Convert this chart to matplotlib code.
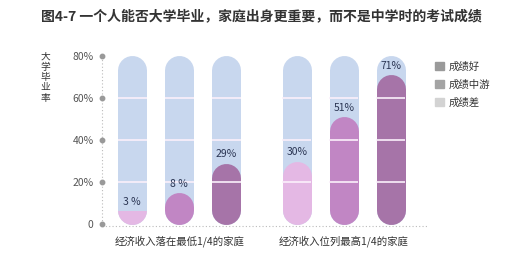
import matplotlib
matplotlib.use("Agg")
import matplotlib.pyplot as plt
from matplotlib.patches import Rectangle, Patch

plt.rcParams['font.family'] = ['Noto Sans CJK SC', 'DejaVu Sans']

# data
title = "图4-7 一个人能否大学毕业，家庭出身更重要，而不是中学时的考试成绩"
groups = ["经济收入落在最低1/4的家庭", "经济收入位列最高1/4的家庭"]
levels = ["成绩差", "成绩中游", "成绩好"]
low_income = [3, 8, 29]
high_income = [30, 51, 71]
yticks = [0, 20, 40, 60, 80]
ytick_labels = ["0", "20%", "40%", "60%", "80%"]

fill_colors = {"成绩差": "#e4b8e4", "成绩中游": "#c186c4", "成绩好": "#a674a8"}
legend_colors = {"成绩好": "#9a9a9a", "成绩中游": "#a4a4a4", "成绩差": "#d3d3d3"}
back_color = "#c8d7ee"

W, H = 525, 259
fig = plt.figure(figsize=(W / 100, H / 100), dpi=100)
ax = fig.add_axes([102 / W, (H - 224) / H, 326 / W, 168 / H])
ax.set_xlim(-0.64, 6.29)
ax.set_ylim(0, 80)
for s in ax.spines.values():
    s.set_visible(False)
ax.set_xticks([])
ax.set_yticks(yticks)
ax.set_yticklabels(ytick_labels, fontsize=7.5, color="#555555")
ax.tick_params(axis="y", length=0, pad=6)

# bar geometry in pixels -> data units
bar_px = 29
px_per_unit = ax.transData.transform((0, 1))[1] - ax.transData.transform((0, 0))[1]
r = bar_px / 2 / px_per_unit
lw = bar_px * 72 / 100
half_w = bar_px / 2 / (ax.transData.transform((1, 0))[0] - ax.transData.transform((0, 0))[0])

positions = [[0, 1, 2], [3.5, 4.5, 5.5]]
for gi, vals in enumerate([low_income, high_income]):
    for x, v, lev in zip(positions[gi], vals, levels):
        # background capsule up to 80%
        ax.plot([x, x], [r, 80 - r], color=back_color, lw=lw,
                solid_capstyle="round", zorder=1, clip_on=False)
        # filled capsule (at least one bar-width tall)
        top = max(v, 2 * r + 1)
        ln, = ax.plot([x, x], [r, top - r], color=fill_colors[lev], lw=lw,
                      solid_capstyle="round", zorder=2)
        clip_top = min(top, 2 * v)
        clip = Rectangle((x - 0.5, -5), 1, clip_top + 5, transform=ax.transData)
        ln.set_clip_path(clip)
        ln.set_clip_on(True)
        lab = f"{v} %" if v < 10 else f"{v}%"
        ax.text(x, clip_top + 2, lab, ha="center", va="bottom", fontsize=7.5,
                color="#2b3553", zorder=5)
        # white grid lines across the bar
        ax.hlines(yticks[1:-1], x - half_w, x + half_w, color="#fbf0fb",
                  lw=1.2, zorder=3)
    ax.text(sum(positions[gi]) / 3, -8, groups[gi], ha="center", va="center",
            fontsize=7.5, color="#333333")

# dotted axes
xl = ax.get_xlim()[0]
ax.plot([xl, xl], [0, 80], color="#bbbbbb", lw=0.8, ls=(0, (1, 2)), zorder=4, clip_on=False)
ax.plot([xl] * len(yticks), yticks, "o", color="#999999", ms=3.2, zorder=4, clip_on=False)
ax.plot(ax.get_xlim(), [-1, -1], color="#bbbbbb", lw=0.8, ls=(0, (1, 2)), zorder=0, clip_on=False)

# y label stacked vertically
fig.text(45 / W, 1 - 77 / H, "\n".join("大学毕业率"), ha="center", va="center",
         fontsize=7, color="#333333", linespacing=1.05)

fig.text(261 / W, 1 - 16 / H, title, ha="center", va="center", fontsize=10,
         fontweight="bold", color="#333333")

handles = [Patch(color=legend_colors[k]) for k in ["成绩好", "成绩中游", "成绩差"]]
fig.legend(handles, ["成绩好", "成绩中游", "成绩差"], loc="upper left",
           bbox_to_anchor=(426 / W, 1 - 52 / H), frameon=False, fontsize=7.5,
           handlelength=0.8, handleheight=0.8, handletextpad=0.5,
           labelspacing=0.75, labelcolor="#333333")

fig.savefig("out.png", dpi=100)
